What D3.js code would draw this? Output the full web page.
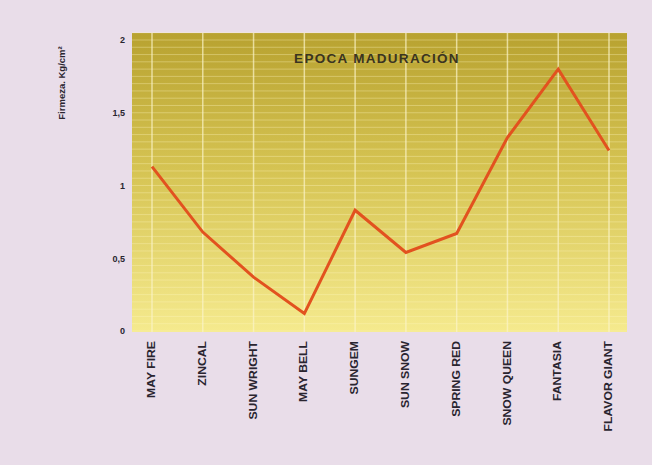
<!DOCTYPE html>
<html><head><meta charset="utf-8">
<script src="https://cdn.jsdelivr.net/npm/d3@7"></script>
<style>body{margin:0;background:#e9dde9;} svg{display:block;}</style>
</head><body>
<script>
const categories = ["MAY FIRE","ZINCAL","SUN WRIGHT","MAY BELL","SUNGEM","SUN SNOW","SPRING RED","SNOW QUEEN","FANTASIA","FLAVOR GIANT"];
const values = [1.13, 0.68, 0.37, 0.12, 0.83, 0.54, 0.67, 1.33, 1.80, 1.24];
const yTicks = [0, 0.5, 1, 1.5, 2];
const yTickLabels = ["0","0,5","1","1,5","2"];
const title = "EPOCA MADURACIÓN";
const yLabel = "Firmeza. Kg/cm²";

const W = 652, H = 465;
const svg = d3.select("body").append("svg").attr("width", W).attr("height", H);
svg.append("rect").attr("width", W).attr("height", H).attr("fill", "#e9dde9");

const plot = {left: 132, right: 627, top: 33, bottom: 332};
const x = d3.scalePoint().domain(categories).range([152, 609]);
const y = d3.scaleLinear().domain([0, 2]).range([331, 40]);

const defs = svg.append("defs");
const g = defs.append("linearGradient").attr("id","bg").attr("x1",0).attr("y1",0).attr("x2",0).attr("y2",1);
g.append("stop").attr("offset","0%").attr("stop-color","#b8a230");
g.append("stop").attr("offset","45%").attr("stop-color","#d5c352");
g.append("stop").attr("offset","100%").attr("stop-color","#f5ea8e");

svg.append("rect").attr("x", plot.left).attr("y", plot.top)
  .attr("width", plot.right - plot.left).attr("height", plot.bottom - plot.top)
  .attr("fill", "url(#bg)");

// fine horizontal stripes
const stripes = d3.range(0, 2.06, 0.05);
svg.append("g").selectAll("line").data(stripes).join("line")
  .attr("x1", plot.left).attr("x2", plot.right)
  .attr("y1", d => y(d)).attr("y2", d => y(d))
  .attr("stroke", "#fff6c0").attr("stroke-opacity", 0.35).attr("stroke-width", 1);

// vertical gridlines at categories
svg.append("g").selectAll("line").data(categories).join("line")
  .attr("x1", d => x(d)).attr("x2", d => x(d))
  .attr("y1", plot.top).attr("y2", plot.bottom)
  .attr("stroke", "#fbf3c8").attr("stroke-opacity", 0.7).attr("stroke-width", 1.5);

// title
svg.append("text").attr("x", 377).attr("y", 63).attr("text-anchor","middle")
  .attr("font-family","Liberation Sans, Arial, sans-serif").attr("font-weight","bold")
  .attr("font-size", 13.5).attr("fill","#3a3420").attr("letter-spacing","1.3")
  .text(title);

// y axis
const yAxis = d3.axisLeft(y).tickValues(yTicks).tickSize(0).tickPadding(0)
  .tickFormat((d,i) => yTickLabels[i]);
const ya = svg.append("g").attr("transform", "translate(125,0)").call(yAxis);
ya.select(".domain").remove();
ya.selectAll("text").attr("font-family","Liberation Sans, Arial, sans-serif")
  .attr("font-weight","bold").attr("font-size", 9).attr("fill","#2a2530");

// x axis
const xAxis = d3.axisBottom(x).tickSize(0).tickPadding(0);
const xa = svg.append("g").attr("transform", "translate(0,341)").call(xAxis);
xa.select(".domain").remove();
xa.selectAll("text").attr("font-family","Liberation Sans, Arial, sans-serif")
  .attr("font-weight","bold").attr("font-size", 12.2).attr("fill","#2a2530")
  .attr("text-anchor","end").attr("dy", null)
  .attr("transform","rotate(-90) scale(1,0.82)").attr("x", 0).attr("y", 0)
  .attr("dominant-baseline","middle");

// y label
svg.append("text").attr("transform","translate(65,83) rotate(-90)")
  .attr("text-anchor","middle").attr("font-family","Liberation Sans, Arial, sans-serif")
  .attr("font-weight","bold").attr("font-size", 9.5).attr("fill","#2a2530")
  .text(yLabel);

// line
const line = d3.line().x((d,i) => x(categories[i])).y(d => y(d));
svg.append("path").datum(values).attr("d", line)
  .attr("fill","none").attr("stroke","#e2521f").attr("stroke-width", 3)
  .attr("stroke-linejoin","miter");
</script>
</body></html>
